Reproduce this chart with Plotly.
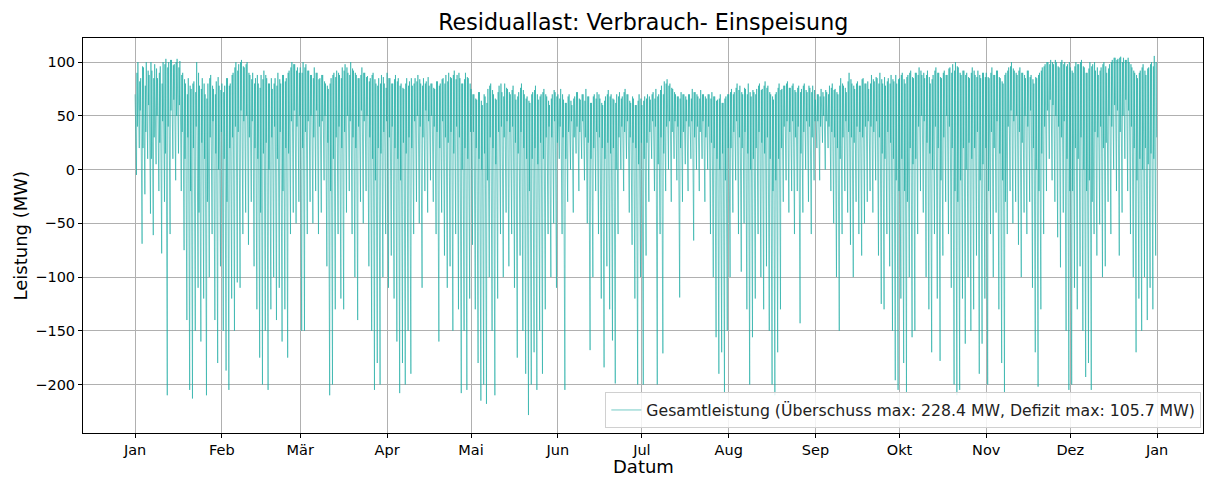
import plotly.graph_objects as go
import pandas as pd

# ---------------- data (MW) per day: night high, midday low, evening high, late-evening dip ----------------
jan_hi = [70, 100, 85, 95, 100, 88, 92, 98, 85, 96, 100, 103, 100, 102, 98, 103, 101, 90, 80, 85, 75, 82, 100, 78, 85, 70, 80, 88, 75, 82, 78]
jan_lo = [-5, 20, -69, -23, 10, -41, -61, 5, -20, -78, -30, -210, -60, 10, -10, 15, -20, -75, -140, -205, -213, -150, -110, -160, -120, -210, -100, -60, -140, -180, -90]
jan_hi2 = [90, 82, 96, 78, 92, 100, 85, 94, 90, 80, 98, 95, 102, 97, 100, 95, 88, 84, 70, 78, 80, 72, 90, 75, 80, 66, 85, 78, 70, 86, 74]
jan_lo2 = [40, 55, 20, 35, 60, 10, 30, 50, 25, 45, 15, 40, 55, 65, 50, 60, 35, 10, 30, -20, 20, 40, -40, 25, 10, -30, 30, 45, 15, 0, 35]
feb_hi = [80, 78, 85, 80, 90, 100, 98, 102, 95, 100, 88, 90, 85, 80, 88, 92, 85, 80, 75, 85, 90, 80, 88, 85, 92, 100, 98, 95]
feb_lo = [-150, -187, -205, -120, -150, -105, -110, -60, -40, -70, -30, -90, -130, -175, -200, -150, -205, -130, -100, -140, -110, -160, -130, -175, -60, -40, -50, -30]
feb_hi2 = [72, 85, 78, 88, 95, 92, 100, 96, 98, 90, 84, 80, 88, 76, 84, 88, 80, 85, 80, 78, 84, 88, 82, 90, 95, 98, 92, 90]
feb_lo2 = [10, -30, 20, 30, 40, 35, 55, 45, 50, 30, 45, 20, 10, -40, 15, 25, 0, 30, 40, 10, 35, -20, 20, 15, 45, 55, 40, 50]
mar_hi = [95, 100, 98, 92, 88, 95, 90, 85, 88, 80, 75, 85, 90, 92, 88, 95, 98, 90, 100, 92, 88, 85, 95, 90, 87, 85, 90, 80, 85, 88, 80]
mar_lo = [-150, -150, -60, -30, -50, -20, -60, -40, -10, -90, -210, -200, -130, -60, -120, -130, -40, -20, -60, -100, -140, -30, -50, -20, -90, -150, -205, -180, -200, -100, -60]
mar_hi2 = [90, 95, 92, 88, 85, 90, 84, 88, 82, 78, 80, 88, 86, 90, 85, 92, 95, 88, 94, 90, 85, 88, 90, 86, 82, 88, 84, 78, 80, 86, 76]
mar_lo2 = [20, 35, 45, 50, 30, 55, 40, 45, 50, 25, -20, 10, 30, 40, 20, 35, 50, 45, 30, 20, 40, 55, 45, 50, 30, 10, -10, 20, 15, 35, 45]
apr_hi = [90, 85, 80, 88, 85, 80, 75, 85, 82, 78, 85, 88, 80, 85, 82, 78, 80, 75, 82, 80, 85, 88, 90, 85, 92, 88, 85, 80, 90, 85]
apr_lo = [-110, -80, -120, -160, -208, -180, -200, -150, -190, -60, -30, -50, -110, -20, -40, -10, -30, -60, -160, -40, -80, -110, -90, -150, -60, -130, -208, -150, -205, -120]
apr_hi2 = [85, 80, 84, 82, 78, 76, 80, 78, 85, 80, 82, 84, 78, 80, 86, 80, 76, 82, 78, 84, 80, 82, 86, 88, 84, 90, 80, 84, 86, 80]
apr_lo2 = [30, 40, 20, 10, -10, 25, 15, 30, 20, 45, 50, 40, 30, 55, 45, 50, 40, 35, 20, 45, 30, 25, 35, 15, 40, 30, 0, 20, 10, 35]
may_hi = [75, 70, 65, 72, 60, 68, 75, 80, 70, 65, 78, 72, 80, 75, 70, 78, 65, 72, 80, 70, 68, 62, 72, 78, 65, 70, 75, 68, 60, 70, 72]
may_lo = [-70, -130, -180, -215, -200, -218, -100, -150, -210, -120, -60, -100, -40, -90, -60, -110, -175, -80, -150, -190, -228.4, -200, -170, -205, -150, -190, -130, -60, -100, -50, -110]
may_hi2 = [70, 66, 72, 64, 70, 62, 78, 74, 66, 72, 80, 68, 76, 72, 74, 70, 68, 76, 74, 66, 64, 70, 74, 70, 68, 72, 70, 64, 66, 74, 68]
may_lo2 = [35, 20, 10, 0, 15, -10, 30, 20, 5, 35, 40, 30, 45, 35, 40, 25, 15, 35, 20, 10, -20, 10, 20, 5, 25, 10, 30, 40, 30, 45, 25]
jun_hi = [70, 75, 65, 62, 70, 60, 68, 72, 65, 70, 75, 68, 62, 70, 72, 66, 60, 68, 74, 70, 65, 70, 72, 68, 75, 70, 62, 66, 60, 70]
jun_lo = [10, -60, -205, -30, 0, -40, 15, -20, 10, -10, -50, -168, -100, -20, -60, -120, -184, -90, -130, -159, -199, -60, 0, -20, 10, -40, -70, -120, -200, -100]
jun_hi2 = [66, 70, 62, 68, 64, 66, 72, 66, 70, 64, 68, 62, 68, 66, 70, 62, 64, 70, 68, 66, 62, 68, 66, 72, 70, 64, 68, 60, 64, 66]
jun_lo2 = [40, 30, 10, 35, 45, 30, 40, 35, 45, 30, 25, 10, 20, 35, 30, 20, 10, 25, 15, 20, 0, 30, 40, 35, 45, 30, 25, 20, 5, 25]
jul_hi = [60, 68, 70, 65, 72, 75, 70, 78, 82, 84, 80, 75, 70, 68, 72, 70, 65, 70, 75, 72, 68, 74, 70, 66, 70, 72, 68, 65, 70, 62, 68]
jul_lo = [-200, -80, -30, 10, -20, -200, -60, -171, -20, 0, -30, 10, -10, -119, -30, 5, -20, 10, -66, 0, -20, 10, -30, 0, -60, -100, -156, -190, -170, -208, -150]
jul_hi2 = [64, 66, 68, 70, 66, 68, 74, 70, 80, 78, 76, 72, 68, 66, 70, 68, 70, 66, 72, 70, 66, 70, 68, 70, 66, 68, 64, 66, 62, 66, 70]
jul_lo2 = [10, 25, 35, 45, 40, 5, 30, 15, 40, 45, 35, 45, 40, 20, 35, 45, 40, 45, 30, 40, 35, 45, 30, 40, 25, 20, 10, 0, 15, -10, 20]
aug_hi = [70, 75, 72, 80, 78, 70, 75, 80, 68, 72, 75, 80, 75, 82, 78, 70, 65, 72, 80, 75, 78, 82, 76, 80, 72, 78, 75, 80, 72, 76, 78]
aug_lo = [-100, -40, -10, -60, -95, -50, -130, -200, -156, -120, -60, -100, -130, -90, -150, -200, -210, -170, -130, -30, -10, -40, -20, -60, -20, -143, -40, 0, -30, -60, -10]
aug_hi2 = [72, 70, 76, 74, 72, 76, 70, 72, 74, 70, 78, 74, 78, 76, 72, 68, 70, 76, 74, 78, 80, 76, 78, 74, 76, 72, 78, 74, 78, 72, 74]
aug_lo2 = [20, 35, 45, 30, 20, 35, 15, 0, 10, 20, 35, 25, 15, 30, 10, -20, -10, 10, 20, 40, 45, 35, 45, 30, 40, 15, 35, 45, 40, 30, 45]
sep_hi = [65, 70, 75, 68, 72, 78, 80, 75, 70, 85, 78, 72, 90, 80, 75, 82, 78, 85, 80, 75, 88, 82, 85, 90, 80, 78, 85, 88, 82, 80]
sep_lo = [20, -10, 25, 0, 20, -20, -50, -100, -150, -60, -20, -40, -70, -100, -30, -60, -80, -50, -30, -20, -40, -10, -80, -125, -130, -60, -90, -150, -196, -205]
sep_hi2 = [70, 68, 72, 74, 70, 76, 74, 72, 78, 80, 76, 82, 84, 78, 80, 78, 84, 80, 82, 80, 84, 86, 80, 84, 86, 82, 80, 84, 88, 84]
sep_lo2 = [45, 40, 50, 45, 40, 35, 30, 20, 10, 30, 45, 35, 30, 25, 40, 35, 30, 40, 45, 40, 35, 45, 30, 15, 10, 35, 25, 10, -10, -20]
oct_hi = [85, 90, 80, 88, 92, 85, 90, 95, 88, 85, 92, 80, 88, 95, 90, 85, 92, 88, 95, 98, 100, 95, 88, 92, 90, 85, 95, 88, 92, 85, 90]
oct_lo = [-120, -180, -208, -100, -156, -150, -60, -20, -40, -100, -130, -170, -60, -120, -178, -80, -30, -60, -110, -200, -210, -205, -120, -162, -100, -150, -130, -80, -190, -162, -120]
oct_hi2 = [88, 84, 86, 90, 86, 90, 88, 92, 90, 88, 86, 84, 92, 90, 86, 90, 88, 94, 90, 92, 96, 90, 92, 88, 86, 90, 92, 86, 88, 90, 86]
oct_lo2 = [10, -20, -30, 20, 5, 10, 40, 50, 45, 25, 15, 0, 40, 20, -10, 30, 50, 40, 20, -20, -30, -10, 20, 0, 25, 10, 20, 35, -10, 5, 20]
nov_hi = [90, 85, 95, 88, 92, 85, 80, 90, 95, 100, 92, 88, 95, 90, 85, 92, 88, 80, 85, 90, 95, 98, 100, 102, 98, 100, 95, 102, 100, 98]
nov_lo = [-200, -60, -100, -40, -130, -180, -208, -60, -20, -50, -30, -70, -100, -40, -60, -30, -110, -170, -202, -130, -60, -20, 10, -10, -30, -63, -91, -40, -150, -205]
nov_hi2 = [86, 90, 88, 92, 86, 82, 88, 92, 96, 94, 90, 92, 90, 88, 92, 86, 84, 86, 88, 92, 96, 100, 98, 100, 102, 96, 100, 98, 96, 100]
nov_lo2 = [-20, 35, 20, 45, 15, -10, -30, 40, 55, 45, 50, 35, 25, 50, 40, 55, 20, 0, -20, 15, 40, 55, 65, 60, 50, 40, 30, 45, 10, -20]
dec_hi = [95, 90, 100, 98, 102, 95, 90, 100, 98, 92, 88, 95, 100, 90, 98, 102, 104, 103, 105, 104, 102, 100, 95, 90, 85, 92, 98, 88, 95, 100, 105.7]
dec_lo = [-200, -110, -130, -90, -150, -193, -180, -205, -60, -80, -51, -100, -90, -30, -60, 0, -20, -80, -40, 10, -20, -60, -100, -170, -120, -150, -100, -140, -110, -130, -80]
dec_hi2 = [92, 96, 98, 100, 96, 90, 94, 96, 100, 95, 92, 98, 96, 94, 100, 104, 102, 104, 100, 102, 104, 98, 92, 88, 90, 95, 92, 94, 98, 96, 100]
dec_lo2 = [-20, 20, 10, 30, 0, -20, -10, -30, 35, 30, 40, 20, 25, 50, 40, 60, 55, 35, 50, 65, 55, 40, 20, -10, 10, 0, 20, 5, 15, 10, 30]

month_ticks = ["2023-01-01", "2023-02-01", "2023-03-01", "2023-04-01", "2023-05-01", "2023-06-01",
               "2023-07-01", "2023-08-01", "2023-09-01", "2023-10-01", "2023-11-01", "2023-12-01", "2024-01-01"]
month_labels = ["Jan", "Feb", "Mär", "Apr", "Mai", "Jun", "Jul", "Aug", "Sep", "Okt", "Nov", "Dez", "Jan"]

# ---------------- build series ----------------
his = jan_hi + feb_hi + mar_hi + apr_hi + may_hi + jun_hi + jul_hi + aug_hi + sep_hi + oct_hi + nov_hi + dec_hi
los = jan_lo + feb_lo + mar_lo + apr_lo + may_lo + jun_lo + jul_lo + aug_lo + sep_lo + oct_lo + nov_lo + dec_lo
his2 = jan_hi2 + feb_hi2 + mar_hi2 + apr_hi2 + may_hi2 + jun_hi2 + jul_hi2 + aug_hi2 + sep_hi2 + oct_hi2 + nov_hi2 + dec_hi2
los2 = jan_lo2 + feb_lo2 + mar_lo2 + apr_lo2 + may_lo2 + jun_lo2 + jul_lo2 + aug_lo2 + sep_lo2 + oct_lo2 + nov_lo2 + dec_lo2
start = pd.Timestamp("2023-01-01")
xs, ys = [], []
for d in range(len(his)):
    for hour, val in ((0, his[d]), (12, los[d]), (16, his2[d]), (20, los2[d])):
        xs.append(start + pd.Timedelta(days=d, hours=hour))
        ys.append(val)

legend_name = "Gesamtleistung (Überschuss max: 228.4 MW, Defizit max: 105.7 MW)"

fig = go.Figure()
fig.add_trace(go.Scatter(
    x=xs, y=ys, mode="lines", name=legend_name,
    line=dict(color="rgba(32,172,164,0.78)", width=0.8),
    showlegend=True,
))

font = "DejaVu Sans, Liberation Sans, sans-serif"
x0 = start - pd.Timedelta(days=18.6)
x1 = start + pd.Timedelta(days=381.4)

fig.update_layout(
    width=1205, height=477,
    margin=dict(l=83, r=2, t=38, b=44),
    paper_bgcolor="white", plot_bgcolor="white",
    font=dict(family=font, size=14, color="black"),
    title=dict(text="Residuallast: Verbrauch- Einspeisung", x=0.5338, xanchor="center",
               y=1 - 22 / 477, yanchor="middle", yref="container",
               font=dict(size=22.2, family=font, color="black")),
    showlegend=True,
    legend=dict(x=0.9985, y=0.012, xanchor="right", yanchor="bottom",
                bgcolor="rgba(255,255,255,0.85)", bordercolor="#d0d0d0", borderwidth=1,
                font=dict(size=15.7, family=font, color="#222")),
)
fig.update_xaxes(
    range=[x0, x1], tickmode="array", tickvals=month_ticks, ticktext=month_labels,
    showgrid=True, gridcolor="#b0b0b0", gridwidth=0.8, automargin=False,
    showline=True, linecolor="black", linewidth=1, mirror=True,
    ticks="outside", ticklen=4, tickcolor="black",
    tickfont=dict(size=14.5, family=font), zeroline=False,
)
fig.update_yaxes(
    range=[-245.1, 122.4], tickmode="array", tickvals=[-200, -150, -100, -50, 0, 50, 100],
    ticktext=["\u2212200", "\u2212150", "\u2212100", "\u221250", "0", "50", "100"],
    showgrid=True, gridcolor="#b0b0b0", gridwidth=0.8, automargin=False,
    showline=True, linecolor="black", linewidth=1, mirror=True,
    ticks="outside", ticklen=4, tickcolor="black",
    tickfont=dict(size=14.5, family=font), zeroline=False,
)
fig.add_annotation(text="Datum", xref="paper", yref="paper", x=0.5, y=-0.0836,
                   xanchor="center", yanchor="middle", showarrow=False, borderpad=0,
                   font=dict(size=18, family=font, color="black"))
fig.add_annotation(text="Leistung (MW)", xref="paper", yref="paper", x=0, xshift=-63, y=0.5,
                   xanchor="center", yanchor="middle", textangle=-90, showarrow=False,
                   font=dict(size=18, family=font, color="black"))

fig.write_html("out.html", config={"displayModeBar": False},
               post_script="document.body.style.margin='0px';")
